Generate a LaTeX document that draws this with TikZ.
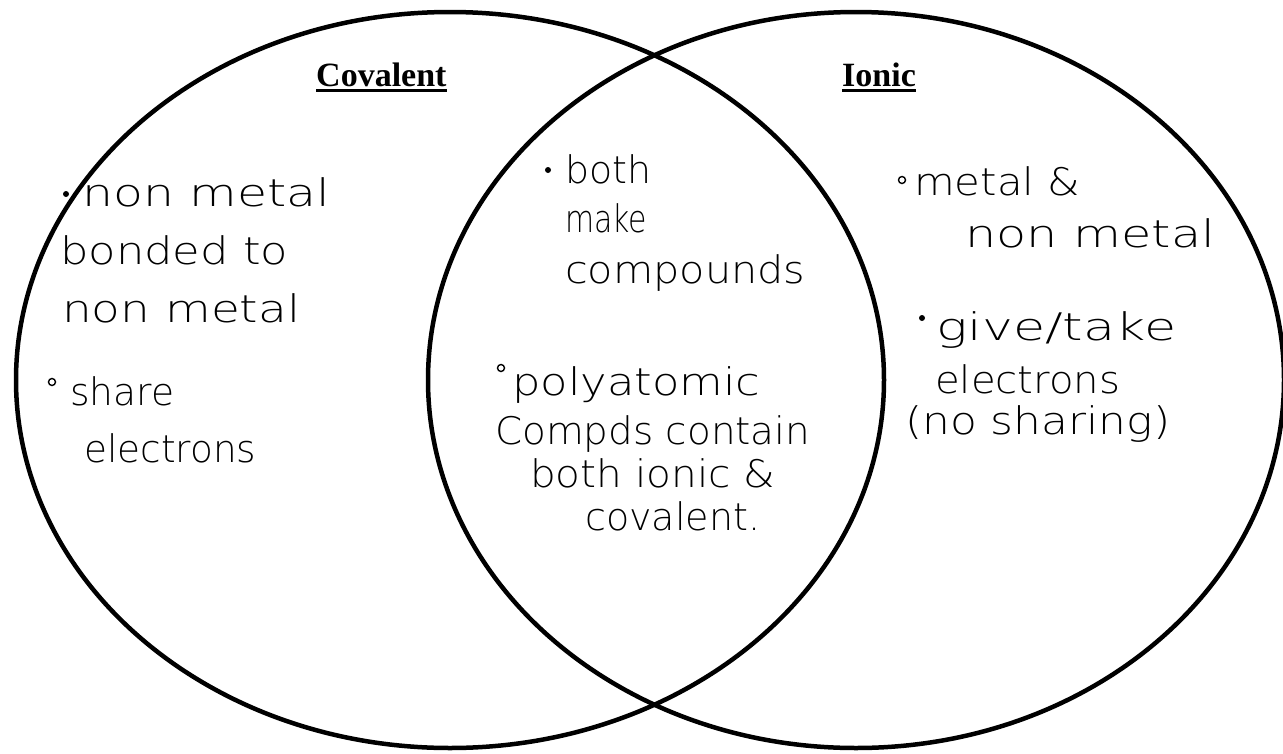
\documentclass[tikz,border=0pt]{standalone}
\usepackage{fontspec}
\usepackage{graphicx}
\setmainfont{Liberation Serif}
\newfontfamily\handfont{DejaVu Sans ExtraLight}
\usetikzlibrary{shapes.geometric}
% set a handwritten line at a given width, keeping its natural height
\newcommand{\penline}[2]{\resizebox{#1pt}{\height}{#2}}
\begin{document}
\begin{tikzpicture}[x=1pt,y=-1pt,
  ring/.style={draw=black,line width=4.5pt,ellipse,inner sep=0pt},
  heading/.style={font=\fontsize{34}{40}\selectfont\bfseries,inner sep=0pt,anchor=base west},
  hand/.style={font=\handfont\fontsize{38}{46}\selectfont,inner sep=0pt,anchor=base west},
  dotmark/.style={circle,fill=black,inner sep=0pt,minimum size=6pt},
  ringmark/.style={circle,draw=black,line width=1.4pt,inner sep=0pt,minimum size=7pt}]
\useasboundingbox (0,0) rectangle (1283,753);

% the two sets
\node[ring,minimum width=868pt,minimum height=736pt] (cov) at (450,380) {};
\node[ring,minimum width=856pt,minimum height=736pt] (ion) at (856,380) {};

% headings with underlines
\node[heading] (covT) at (316,86) {Covalent};
\node[heading] (ionT) at (842,86) {Ionic};
\draw[line width=2.2pt] ([yshift=-4.5pt]covT.base west) -- ([yshift=-4.5pt]covT.base east);
\draw[line width=2.2pt] ([yshift=-4.5pt]ionT.base west) -- ([yshift=-4.5pt]ionT.base east);

% covalent only
\node[dotmark] (b1) at (66,194) {};
\node[hand] (l1) at (82,206) {\penline{248}{non metal}};
\node[hand] (l2) at (60,264) {\penline{228}{bonded to}};
\node[hand] (l3) at (62,322) {\penline{238}{non metal}};
\node[ringmark] (b2) at (52,382) {};
\node[hand] (l4) at (70,405) {\penline{104}{share}};
\node[hand] (l5) at (84,462) {\penline{172}{electrons}};

% shared
\node[dotmark] (b3) at (548,170) {};
\node[hand] (m1) at (565,183) {\penline{86}{both}};
\node[hand] (m2) at (565,232) {\penline{82}{make}};
\node[hand] (m3) at (565,283) {\penline{240}{compounds}};
\node[ringmark] (b4) at (501,368) {};
\node[hand] (m4) at (512,395) {\penline{248}{polyatomic}};
\node[hand] (m5) at (495,444) {\penline{315}{Compds contain}};
\node[hand] (m6) at (530,487) {\penline{245}{both ionic \&}};
\node[hand] (m7) at (585,530) {\penline{175}{covalent.}};

% ionic only
\node[ringmark] (b5) at (902,180) {};
\node[hand] (r1) at (914,195) {\penline{166}{metal \&}};
\node[hand] (r2) at (965,247) {\penline{250}{non metal}};
\node[dotmark] (b6) at (922,318) {};
\node[hand] (r3) at (936,340) {\penline{240}{give/take}};
\node[hand] (r4) at (935,393) {\penline{185}{electrons}};
\node[hand] (r5) at (905,434) {\penline{265}{(no sharing)}};
\end{tikzpicture}
\end{document}
